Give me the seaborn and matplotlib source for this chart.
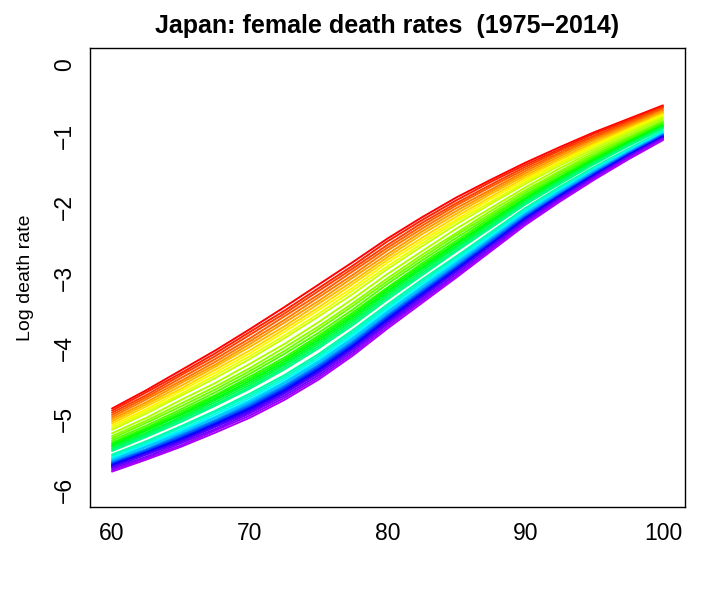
import colorsys
import matplotlib
matplotlib.use("Agg")
import matplotlib.pyplot as plt
import seaborn as sns
import pandas as pd

ages = [60, 62.5, 65, 67.5, 70, 72.5, 75, 77.5, 80, 82.5, 85, 87.5, 90, 92.5, 95, 97.5, 100]
years = list(range(1975, 2015))

# log death rate per year (1975..2014), one list per age
logm_60 = [-4.85, -4.88, -4.91, -4.94, -4.97, -5.00, -5.03, -5.06, -5.09, -5.12,
           -5.15, -5.20, -5.24, -5.27, -5.30, -5.33, -5.35, -5.37, -5.39, -5.41,
           -5.43, -5.45, -5.50, -5.52, -5.54, -5.56, -5.57, -5.58, -5.60, -5.61,
           -5.62, -5.63, -5.64, -5.65, -5.66, -5.67, -5.68, -5.70, -5.72, -5.74]
logm_62 = [-4.59, -4.62, -4.66, -4.69, -4.72, -4.76, -4.79, -4.82, -4.86, -4.89,
           -4.92, -4.98, -5.02, -5.05, -5.09, -5.12, -5.14, -5.16, -5.19, -5.21,
           -5.23, -5.25, -5.31, -5.33, -5.35, -5.37, -5.38, -5.39, -5.42, -5.43,
           -5.44, -5.45, -5.46, -5.47, -5.48, -5.49, -5.50, -5.53, -5.55, -5.57]
logm_65 = [-4.31, -4.35, -4.38, -4.42, -4.46, -4.49, -4.53, -4.57, -4.60, -4.64,
           -4.67, -4.73, -4.78, -4.82, -4.86, -4.89, -4.92, -4.94, -4.97, -4.99,
           -5.01, -5.04, -5.10, -5.12, -5.15, -5.17, -5.18, -5.20, -5.22, -5.23,
           -5.24, -5.26, -5.27, -5.28, -5.29, -5.31, -5.32, -5.34, -5.37, -5.39]
logm_67 = [-4.03, -4.07, -4.11, -4.15, -4.19, -4.23, -4.26, -4.30, -4.34, -4.38,
           -4.42, -4.49, -4.54, -4.58, -4.62, -4.66, -4.68, -4.71, -4.73, -4.76,
           -4.79, -4.81, -4.88, -4.90, -4.93, -4.96, -4.97, -4.98, -5.01, -5.02,
           -5.03, -5.05, -5.06, -5.07, -5.09, -5.10, -5.11, -5.14, -5.16, -5.19]
logm_70 = [-3.73, -3.77, -3.81, -3.86, -3.90, -3.94, -3.98, -4.03, -4.07, -4.11,
           -4.15, -4.22, -4.28, -4.32, -4.36, -4.40, -4.43, -4.46, -4.49, -4.52,
           -4.55, -4.57, -4.64, -4.67, -4.70, -4.73, -4.74, -4.76, -4.78, -4.80,
           -4.81, -4.83, -4.84, -4.85, -4.87, -4.88, -4.90, -4.92, -4.95, -4.98]
logm_72 = [-3.42, -3.47, -3.51, -3.55, -3.60, -3.64, -3.69, -3.73, -3.77, -3.82,
           -3.86, -3.94, -3.99, -4.04, -4.08, -4.13, -4.16, -4.19, -4.22, -4.24,
           -4.27, -4.30, -4.38, -4.41, -4.44, -4.47, -4.48, -4.49, -4.52, -4.54,
           -4.55, -4.57, -4.58, -4.60, -4.61, -4.63, -4.64, -4.67, -4.70, -4.73]
logm_75 = [-3.10, -3.15, -3.19, -3.24, -3.28, -3.33, -3.37, -3.42, -3.46, -3.51,
           -3.55, -3.63, -3.69, -3.73, -3.78, -3.82, -3.85, -3.88, -3.91, -3.94,
           -3.97, -4.00, -4.08, -4.11, -4.14, -4.17, -4.18, -4.20, -4.23, -4.24,
           -4.26, -4.27, -4.29, -4.30, -4.32, -4.33, -4.35, -4.38, -4.41, -4.44]
logm_77 = [-2.78, -2.83, -2.87, -2.91, -2.96, -3.00, -3.05, -3.09, -3.14, -3.18,
           -3.23, -3.30, -3.36, -3.40, -3.45, -3.49, -3.52, -3.55, -3.58, -3.61,
           -3.64, -3.67, -3.74, -3.77, -3.80, -3.83, -3.85, -3.86, -3.89, -3.91,
           -3.92, -3.94, -3.95, -3.97, -3.98, -4.00, -4.01, -4.04, -4.07, -4.10]
logm_80 = [-2.45, -2.49, -2.54, -2.58, -2.62, -2.67, -2.71, -2.75, -2.79, -2.84,
           -2.88, -2.95, -3.01, -3.05, -3.09, -3.14, -3.16, -3.19, -3.22, -3.25,
           -3.28, -3.31, -3.38, -3.41, -3.43, -3.46, -3.48, -3.49, -3.52, -3.54,
           -3.55, -3.56, -3.58, -3.59, -3.61, -3.62, -3.64, -3.66, -3.69, -3.72]
logm_82 = [-2.15, -2.19, -2.23, -2.27, -2.31, -2.35, -2.39, -2.44, -2.48, -2.52,
           -2.56, -2.63, -2.68, -2.72, -2.76, -2.80, -2.83, -2.86, -2.88, -2.91,
           -2.94, -2.97, -3.03, -3.06, -3.09, -3.12, -3.13, -3.14, -3.17, -3.18,
           -3.20, -3.21, -3.22, -3.24, -3.25, -3.26, -3.28, -3.31, -3.33, -3.36]
logm_85 = [-1.87, -1.91, -1.95, -1.98, -2.02, -2.06, -2.10, -2.14, -2.18, -2.21,
           -2.25, -2.31, -2.37, -2.40, -2.44, -2.48, -2.51, -2.53, -2.56, -2.58,
           -2.61, -2.63, -2.70, -2.72, -2.75, -2.77, -2.78, -2.80, -2.82, -2.84,
           -2.85, -2.86, -2.87, -2.89, -2.90, -2.91, -2.92, -2.95, -2.98, -3.00]
logm_87 = [-1.62, -1.65, -1.69, -1.72, -1.76, -1.79, -1.82, -1.86, -1.89, -1.93,
           -1.96, -2.02, -2.06, -2.10, -2.13, -2.16, -2.19, -2.21, -2.23, -2.26,
           -2.28, -2.30, -2.36, -2.38, -2.40, -2.43, -2.44, -2.45, -2.47, -2.48,
           -2.49, -2.51, -2.52, -2.53, -2.54, -2.55, -2.56, -2.59, -2.61, -2.63]
logm_90 = [-1.38, -1.41, -1.44, -1.47, -1.50, -1.53, -1.56, -1.59, -1.62, -1.65,
           -1.68, -1.73, -1.77, -1.80, -1.83, -1.85, -1.88, -1.89, -1.91, -1.93,
           -1.95, -1.97, -2.02, -2.04, -2.06, -2.08, -2.09, -2.10, -2.12, -2.13,
           -2.14, -2.15, -2.16, -2.17, -2.18, -2.19, -2.20, -2.22, -2.24, -2.26]
logm_92 = [-1.16, -1.19, -1.21, -1.24, -1.26, -1.29, -1.32, -1.34, -1.37, -1.39,
           -1.42, -1.46, -1.50, -1.52, -1.55, -1.58, -1.59, -1.61, -1.63, -1.64,
           -1.66, -1.68, -1.72, -1.74, -1.76, -1.77, -1.78, -1.79, -1.81, -1.82,
           -1.83, -1.84, -1.84, -1.85, -1.86, -1.87, -1.88, -1.90, -1.91, -1.93]
logm_95 = [-0.95, -0.97, -1.00, -1.02, -1.04, -1.06, -1.09, -1.11, -1.13, -1.15,
           -1.18, -1.21, -1.24, -1.27, -1.29, -1.31, -1.33, -1.34, -1.36, -1.37,
           -1.39, -1.40, -1.44, -1.46, -1.47, -1.49, -1.49, -1.50, -1.52, -1.52,
           -1.53, -1.54, -1.55, -1.55, -1.56, -1.57, -1.58, -1.59, -1.61, -1.62]
logm_97 = [-0.76, -0.78, -0.80, -0.82, -0.84, -0.86, -0.88, -0.90, -0.91, -0.93,
           -0.95, -0.98, -1.01, -1.03, -1.05, -1.07, -1.08, -1.09, -1.11, -1.12,
           -1.13, -1.14, -1.18, -1.19, -1.20, -1.22, -1.22, -1.23, -1.24, -1.25,
           -1.25, -1.26, -1.27, -1.27, -1.28, -1.29, -1.29, -1.30, -1.32, -1.33]
logm_100 = [-0.57, -0.59, -0.60, -0.62, -0.64, -0.65, -0.67, -0.69, -0.70, -0.72,
            -0.74, -0.76, -0.79, -0.80, -0.82, -0.83, -0.85, -0.86, -0.87, -0.88,
            -0.89, -0.90, -0.93, -0.94, -0.95, -0.96, -0.97, -0.97, -0.98, -0.99,
            -0.99, -1.00, -1.01, -1.01, -1.02, -1.02, -1.03, -1.04, -1.05, -1.06]

columns = [logm_60, logm_62, logm_65, logm_67, logm_70, logm_72, logm_75, logm_77,
           logm_80, logm_82, logm_85, logm_87, logm_90, logm_92, logm_95, logm_97,
           logm_100]

# long table: one row per (year, age)
rows = []
for j, age in enumerate(ages):
    for i, yr in enumerate(years):
        rows.append({"year": yr, "age": age, "logm": columns[j][i]})
df = pd.DataFrame(rows)

# R-style rainbow running from red to violet
palette = [colorsys.hsv_to_rgb(i / (len(years) * 1.25), 1, 1) for i in range(len(years))]

sns.set_style("white")
plt.rcParams['font.family'] = ['Liberation Sans', 'DejaVu Sans']
plt.rcParams['text.color'] = 'black'

fig = plt.figure(figsize=(7.09, 5.90), dpi=100)
ax = fig.add_axes([90 / 709, 83 / 590, 595 / 709, 459 / 590])

sns.lineplot(data=df, x="age", y="logm", hue="year", palette=palette,
             estimator=None, legend=False, linewidth=1.4, ax=ax)

ax.set_xlim(58.4, 101.6)
ax.set_ylim(-6.24, 0.24)
ax.set_xticks([60, 70, 80, 90, 100])
ax.set_yticks([-6, -5, -4, -3, -2, -1, 0])
ax.set_yticklabels(["\u22126", "\u22125", "\u22124", "\u22123", "\u22122", "\u22121", "0"],
                   rotation=90, va="center")
ax.tick_params(axis="both", direction="out", length=6, width=1, colors="black",
               labelcolor="black", labelsize=16.5, pad=4)
ax.tick_params(axis="x", pad=5)
for s in ax.spines.values():
    s.set_color("black")
    s.set_linewidth(1)

ax.set_xlabel("")
ax.set_ylabel("Log death rate", fontsize=14, color="black", labelpad=14)
ax.set_title("Japan: female death rates  (1975\u22122014)", fontsize=18,
             fontweight="bold", color="black", pad=11)

fig.savefig("out.png", dpi=100)
